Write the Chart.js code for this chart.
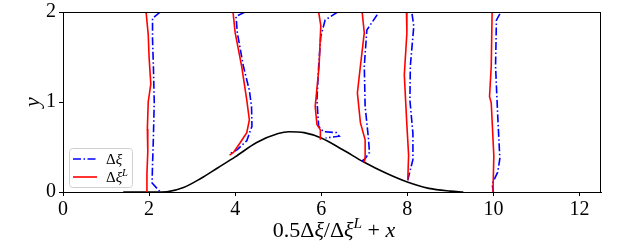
<!DOCTYPE html>
<html>
<head>
<meta charset="utf-8">
<script src="https://cdn.jsdelivr.net/npm/chart.js@4"></script>
<style>
html, body { margin: 0; padding: 0; background: #fff; }
</style>
</head>
<body>
<canvas id="grafico" width="634" height="242"></canvas>
<script>
// bump (terrain) curve
const bumpX = [1.4, 2.3, 2.8, 3.2, 3.6, 4.0, 4.5, 5.0, 5.25, 5.6, 6.0, 6.5, 7.0, 7.5, 8.0, 8.5, 9.0, 9.3];
const bumpY = [0, 0, 0.05, 0.15, 0.27, 0.39, 0.55, 0.65, 0.67, 0.66, 0.6, 0.47, 0.33, 0.21, 0.11, 0.04, 0.01, 0];

// Δξ^L profiles (red)
const red2X = [1.93, 1.98, 2.0, 2.04, 1.98, 1.96, 1.97, 1.95, 1.95];
const red2Y = [2, 1.75, 1.5, 1.2, 1.0, 0.7, 0.45, 0.2, 0];
const red4X = [3.95, 4.0, 4.15, 4.27, 4.33, 4.27, 4.12, 3.96, 3.87];
const red4Y = [2, 1.77, 1.4, 1.02, 0.8, 0.66, 0.55, 0.44, 0.41];
const red6X = [5.94, 5.99, 5.95, 5.86, 5.9, 5.98, 5.98];
const red6Y = [2, 1.85, 1.4, 0.95, 0.75, 0.69, 0.58];
const red7X = [6.95, 7.0, 6.91, 6.84, 6.91, 7.02, 7.02, 7.0];
const red7Y = [2, 1.77, 1.4, 1.1, 0.77, 0.58, 0.39, 0.33];
const red8X = [7.98, 7.99, 7.93, 7.99, 8.03, 8.01];
const red8Y = [2, 1.77, 1.3, 0.74, 0.41, 0.13];
const red10X = [9.97, 9.95, 9.91, 9.95, 10.01, 9.99];
const red10Y = [2, 1.4, 1.06, 0.99, 0.4, 0];

// Δξ profiles (blue)
const blue2X = [2.26, 2.08, 2.08, 2.1, 2.12, 2.1, 2.08, 2.07, 2.26];
const blue2Y = [2, 1.93, 1.7, 1.4, 1.0, 0.6, 0.3, 0.1, 0];
const blue4X = [4.23, 4.02, 4.05, 4.19, 4.33, 4.38, 4.39, 4.27, 4.05, 3.85];
const blue4Y = [2, 1.95, 1.77, 1.4, 1.13, 0.95, 0.73, 0.57, 0.47, 0.42];
const blue6X = [6.38, 6.09, 5.99, 5.94, 5.9, 5.94, 6.05, 6.35, 6.42, 6.1];
const blue6Y = [2, 1.91, 1.73, 1.4, 1.02, 0.73, 0.67, 0.66, 0.62, 0.6];
const blue7X = [7.3, 7.06, 7.0, 7.02, 7.1, 7.12, 7.02, 6.91];
const blue7Y = [1.97, 1.8, 1.4, 0.95, 0.58, 0.44, 0.37, 0.33];
const blue8X = [8.11, 8.15, 8.07, 8.06, 8.13, 8.13, 8.05, 8.01];
const blue8Y = [1.98, 1.84, 1.4, 1.02, 0.65, 0.36, 0.21, 0.13];
const blue10X = [10.15, 10.07, 10.05, 10.1, 10.15, 10.1, 9.97, 10.0];
const blue10Y = [1.98, 1.91, 1.4, 0.85, 0.37, 0.22, 0.09, 0];

const xTicks = [0, 2, 4, 6, 8, 10, 12];
const yTicks = [0, 1, 2];

const SERIF = '"Liberation Serif", "DejaVu Serif", serif';
const DASHDOT = [8, 2.5, 1.5, 2.5];

function pares(xs, ys) {
    return xs.map((x, i) => ({ x: x, y: ys[i] }));
}

function perfil(xs, ys, cor, tracejado) {
    return {
        data: pares(xs, ys),
        borderColor: cor,
        borderWidth: 1.6,
        borderDash: tracejado || [],
        showLine: true,
        pointRadius: 0,
        fill: false,
        tension: 0
    };
}

const curvaBump = perfil(bumpX, bumpY, '#000000');
curvaBump.cubicInterpolationMode = 'monotone';

const datasets = [
    perfil(red2X, red2Y, '#ff0000'),
    perfil(red4X, red4Y, '#ff0000'),
    perfil(red6X, red6Y, '#ff0000'),
    perfil(red7X, red7Y, '#ff0000'),
    perfil(red8X, red8Y, '#ff0000'),
    perfil(red10X, red10Y, '#ff0000'),
    perfil(blue2X, blue2Y, '#0000ff', DASHDOT),
    perfil(blue4X, blue4Y, '#0000ff', DASHDOT),
    perfil(blue6X, blue6Y, '#0000ff', DASHDOT),
    perfil(blue7X, blue7Y, '#0000ff', DASHDOT),
    perfil(blue8X, blue8Y, '#0000ff', DASHDOT),
    perfil(blue10X, blue10Y, '#0000ff', DASHDOT),
    curvaBump
];

// draws a run of text pieces: {t, it (italic), sup (superscript)}
function textoMat(ctx, partes, x, y, tam, alinhar) {
    const fonte = (p) => (p.it ? 'italic ' : '') + (p.sup ? tam * 0.7 : tam) + 'px ' + SERIF;
    let largura = 0;
    partes.forEach(p => { ctx.font = fonte(p); largura += ctx.measureText(p.t).width; });
    let cx = alinhar === 'center' ? x - largura / 2 : x;
    ctx.textBaseline = 'alphabetic';
    ctx.textAlign = 'left';
    partes.forEach(p => {
        ctx.font = fonte(p);
        ctx.fillText(p.t, cx, p.sup ? y - tam * 0.4 : y);
        cx += ctx.measureText(p.t).width;
    });
}

const extras = {
    id: 'extras',
    afterDatasetsDraw(chart) {
        const ctx = chart.ctx;
        const a = chart.chartArea;
        ctx.save();
        // frame
        ctx.strokeStyle = '#000';
        ctx.lineWidth = 1;
        ctx.strokeRect(a.left + 0.5, a.top + 0.5, a.right - a.left - 1, a.bottom - a.top);

        // legend box
        const lx = 69, ly = 148, lw = 63, lh = 39;
        ctx.fillStyle = 'rgba(255,255,255,0.85)';
        ctx.strokeStyle = '#d0d0d0';
        ctx.beginPath();
        ctx.roundRect(lx + 0.5, ly + 0.5, lw, lh, 3);
        ctx.fill();
        ctx.stroke();

        ctx.lineWidth = 1.6;
        ctx.strokeStyle = '#0000ff';
        ctx.setLineDash(DASHDOT);
        ctx.beginPath();
        ctx.moveTo(73, 159);
        ctx.lineTo(97, 159);
        ctx.stroke();
        ctx.setLineDash([]);
        ctx.strokeStyle = '#ff0000';
        ctx.beginPath();
        ctx.moveTo(73, 177);
        ctx.lineTo(97, 177);
        ctx.stroke();

        ctx.fillStyle = '#000';
        textoMat(ctx, [{ t: 'Δ' }, { t: 'ξ', it: true }], 106, 164, 15, 'left');
        textoMat(ctx, [{ t: 'Δ' }, { t: 'ξ', it: true }, { t: 'L', it: true, sup: true }], 106, 182, 15, 'left');

        // axis titles
        textoMat(ctx, [{ t: '0.5Δ' }, { t: 'ξ', it: true }, { t: '/Δ' }, { t: 'ξ', it: true },
            { t: 'L', it: true, sup: true }, { t: ' + ' }, { t: 'x', it: true }],
            (a.left + a.right) / 2 + 2, 237, 22, 'center');
        ctx.save();
        ctx.translate(39, (a.top + a.bottom) / 2);
        ctx.rotate(-Math.PI / 2);
        textoMat(ctx, [{ t: 'y', it: true }], 0, 0, 22, 'center');
        ctx.restore();
        ctx.restore();
    }
};

const ctxGrafico = document.getElementById('grafico').getContext('2d');
const grafico = new Chart(ctxGrafico, {
    type: 'scatter',
    data: { datasets: datasets },
    options: {
        responsive: false,
        animation: false,
        layout: { padding: { left: 0, right: 33, top: 12, bottom: 0 } },
        scales: {
            x: {
                type: 'linear',
                min: 0,
                max: 12.5,
                afterBuildTicks: (s) => { s.ticks = xTicks.map(v => ({ value: v })); },
                afterFit: (s) => { s.height = 50; s.paddingLeft = 0; s.paddingRight = 0; },
                ticks: { color: '#000', font: { family: SERIF, size: 20 }, padding: 2, maxRotation: 0 },
                grid: { drawOnChartArea: false, drawTicks: true, tickLength: 4, color: '#000' },
                border: { color: '#000', width: 1 }
            },
            y: {
                type: 'linear',
                min: 0,
                max: 2,
                afterBuildTicks: (s) => { s.ticks = yTicks.map(v => ({ value: v })); },
                afterFit: (s) => { s.width = 63; s.paddingTop = 0; s.paddingBottom = 0; },
                ticks: { color: '#000', font: { family: SERIF, size: 20 }, padding: 3 },
                grid: { drawOnChartArea: false, drawTicks: true, tickLength: 4, color: '#000' },
                border: { color: '#000', width: 1 }
            }
        },
        plugins: {
            legend: { display: false },
            tooltip: { enabled: false }
        }
    },
    plugins: [extras]
});
</script>
</body>
</html>
